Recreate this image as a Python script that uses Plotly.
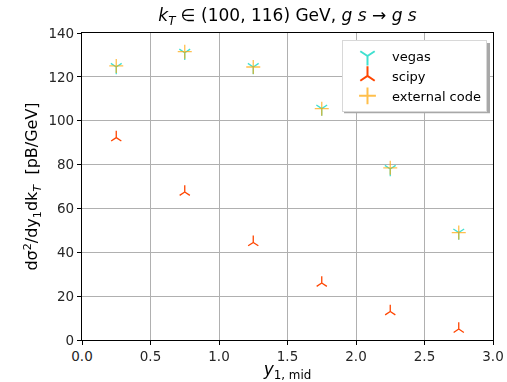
import plotly.graph_objects as go

x_mid = [0.25, 0.75, 1.25, 1.75, 2.25, 2.75]
vegas = [124.5, 131.0, 124.5, 105.5, 78.0, 49.0]
scipy_vals = [92.3, 67.5, 44.5, 26.0, 13.0, 5.0]
external = [125.0, 131.5, 124.5, 105.5, 78.5, 49.0]

x_ticks = [0.0, 0.5, 1.0, 1.5, 2.0, 2.5, 3.0]
y_ticks = [0, 20, 40, 60, 80, 100, 120, 140]

font = "DejaVu Sans"

fig = go.Figure()
fig.add_trace(go.Scatter(x=x_mid, y=vegas, mode="markers", name="vegas",
                         marker=dict(symbol="y-down-open", size=9, color="#40E0D0",
                                     line=dict(color="#40E0D0", width=1.3))))
fig.add_trace(go.Scatter(x=x_mid, y=scipy_vals, mode="markers", name="scipy",
                         marker=dict(symbol="y-up-open", size=8.5, color="#FF4500",
                                     line=dict(color="#FF4500", width=1.3))))
fig.add_trace(go.Scatter(x=x_mid, y=external, mode="markers", name="external code",
                         opacity=0.7,
                         marker=dict(symbol="cross-thin-open", size=10, color="#FFA500",
                                     line=dict(color="#FFA500", width=1.3))))

axis_common = dict(showline=True, linecolor="black", linewidth=1.2, mirror=True,
                   ticks="outside", ticklen=4, tickcolor="black", automargin=False,
                   showgrid=True, gridcolor="#b0b0b0", gridwidth=1, zeroline=False,
                   tickfont=dict(family=font, size=13.5, color="#262626"))

fig.update_xaxes(range=[0, 3.0], tickvals=x_ticks, ticktext=[f"{v:.1f}" for v in x_ticks],
                 title=dict(text="<i>y</i><sub>1, mid</sub>", font=dict(family=font, size=17, color="black"),
                            standoff=2),
                 **axis_common)
fig.update_yaxes(range=[0, 140], tickvals=y_ticks,
                 title=dict(text="dσ<sup>2</sup>/dy<sub>1</sub>dk<sub><i>T</i></sub>  [pB/GeV]",
                            font=dict(family=font, size=16, color="black"), standoff=6),
                 **axis_common)

fig.update_layout(
    width=507, height=382,
    margin=dict(l=82, r=14, t=33, b=42),
    plot_bgcolor="white", paper_bgcolor="white",
    title=dict(text="<i>k<sub>T</sub></i> ∈ (100, 116) GeV, <i>g s</i> → <i>g s</i>",
               x=0.5, xref="paper", xanchor="center", y=0.975, yanchor="top",
               font=dict(family=font, size=17, color="black")),
    legend=dict(x=0.9854, xanchor="right", y=0.977, yanchor="top",
                bgcolor="white", bordercolor="#d8d8d8", borderwidth=1,
                font=dict(family=font, size=13, color="black"),
                itemsizing="constant", itemwidth=39, tracegroupgap=0),
    showlegend=True,
)

# legend shadow
fig.add_shape(type="rect", xref="paper", yref="paper",
              x0=0.6375, x1=0.9927, y0=0.739, y1=0.9674,
              fillcolor="#a8a8a8", line=dict(width=0), layer="above")

fig.write_html("out.html")
